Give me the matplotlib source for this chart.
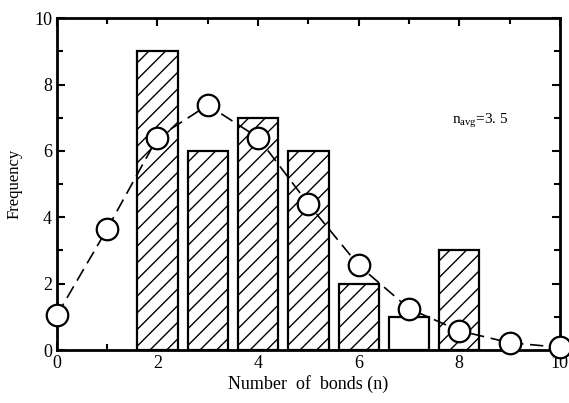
import matplotlib
matplotlib.use("Agg")
import matplotlib.pyplot as plt
from matplotlib.ticker import MultipleLocator

plt.rcParams['font.family'] = ['Liberation Serif', 'DejaVu Serif']
plt.rcParams['mathtext.fontset'] = 'custom'
plt.rcParams['mathtext.rm'] = 'Liberation Serif'
plt.rcParams['hatch.linewidth'] = 1.0

bar_n = [2, 3, 4, 5, 6, 7, 8]
bar_freq = [9, 6, 7, 6, 2, 1, 3]
bar_hatch = ['//', '//', '//', '//', '//', '', '//']

curve_n = [0, 1, 2, 3, 4, 5, 6, 7, 8, 9, 10]
curve_freq = [1.05, 3.65, 6.4, 7.38, 6.4, 4.4, 2.55, 1.25, 0.58, 0.22, 0.08]

fig = plt.figure(figsize=(5.69, 4.03), dpi=100)
ax = fig.add_axes([0.100, 0.1315, 0.884, 0.8235])

for x, h, hs in zip(bar_n, bar_freq, bar_hatch):
    ax.bar(x, h, width=0.8, facecolor='white', edgecolor='black',
           linewidth=1.6, hatch=hs, zorder=2)

ax.plot(curve_n, curve_freq, color='black', linestyle=(0, (8, 4)), linewidth=1.2,
        marker='o', markersize=15.5, markerfacecolor='white',
        markeredgecolor='black', markeredgewidth=1.6, zorder=3, clip_on=False)

ax.text(7.85, 6.9, r'n$_{\mathrm{avg}}$=3. 5', fontsize=11, va='center', ha='left')

ax.set_xlim(0, 10)
ax.set_ylim(0, 10)
ax.xaxis.set_major_locator(MultipleLocator(2))
ax.xaxis.set_minor_locator(MultipleLocator(1))
ax.yaxis.set_major_locator(MultipleLocator(2))
ax.yaxis.set_minor_locator(MultipleLocator(1))
ax.tick_params(which='both', direction='in', top=True, right=True, width=1.5)
ax.tick_params(which='major', length=6, labelsize=13)
ax.tick_params(which='minor', length=4)
for s in ax.spines.values():
    s.set_linewidth(2.0)

ax.set_xlabel('Number  of  bonds (n)', fontsize=13, labelpad=2)
ax.set_ylabel('Frequency', fontsize=12, labelpad=8)

fig.savefig('out.png', dpi=100)
